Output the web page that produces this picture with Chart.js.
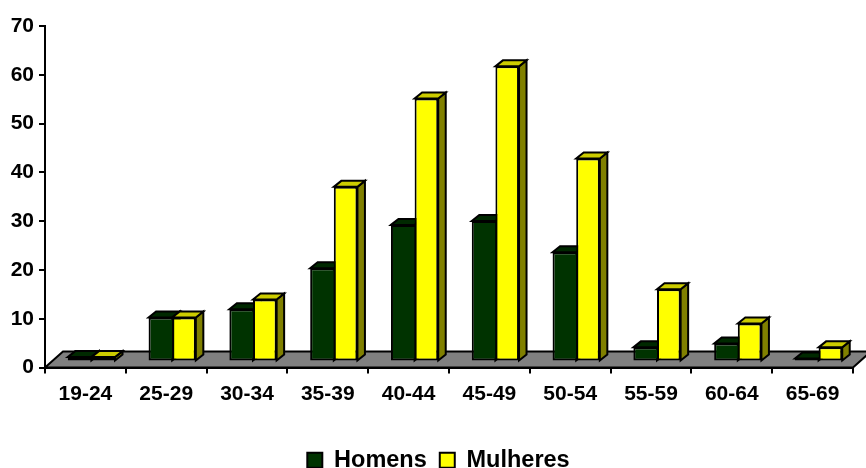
<!DOCTYPE html>
<html>
<head>
<meta charset="utf-8">
<title>Homens e Mulheres por faixa etaria</title>
<script src="https://cdn.jsdelivr.net/npm/chart.js@4"></script>
<style>
  html, body { margin: 0; padding: 0; background: #fff; }
  #wrap { width: 866px; height: 468px; }
</style>
</head>
<body>
<div id="wrap"><canvas id="grafico"></canvas></div>
<script>
const faixas = ['19-24', '25-29', '30-34', '35-39', '40-44', '45-49', '50-54', '55-59', '60-64', '65-69'];
const homens = [0.9, 9, 10.7, 19.1, 28, 28.8, 22.4, 2.9, 3.7, 0.6];
const mulheres = [0.9, 9, 12.7, 35.8, 53.9, 60.5, 41.6, 14.8, 7.8, 2.9];

const fonte = 'Liberation Sans, Arial, sans-serif';

// offsets of the fake 3D: floor depth, bar front shift, bar depth
const piso = { dx: 18, dy: -16 };
const frente = { dx: 6, dy: -6 };
const fundo = { dx: 7.5, dy: -6 };

const cores = [
  { frente: '#003300', topo: '#002900', lado: '#002900' },
  { frente: '#ffff00', topo: '#cccc00', lado: '#808000' }
];

function poligono(ctx, pts, cor) {
  ctx.beginPath();
  ctx.moveTo(pts[0][0], pts[0][1]);
  for (let i = 1; i < pts.length; i++) {
    ctx.lineTo(pts[i][0], pts[i][1]);
  }
  ctx.closePath();
  ctx.fillStyle = cor;
  ctx.fill();
  ctx.stroke();
}

const barras3d = {
  id: 'barras3d',
  afterLayout(chart) {
    // legend sits a bit right of the canvas centre
    chart.legend.left += 12;
    chart.legend.right += 12;
  },
  beforeDatasetsDraw(chart) {
    const ctx = chart.ctx;
    const a = chart.chartArea;
    ctx.save();
    ctx.strokeStyle = '#000';
    ctx.lineWidth = 2;
    ctx.lineJoin = 'miter';

    // floor
    poligono(ctx, [
      [a.left, a.bottom],
      [a.right, a.bottom],
      [a.right + piso.dx, a.bottom + piso.dy],
      [a.left + piso.dx, a.bottom + piso.dy]
    ], '#808080');

    // top and side of each bar, the front comes from the library
    chart.data.labels.forEach((_, j) => {
      for (let d = 0; d < chart.data.datasets.length; d++) {
        const b = chart.getDatasetMeta(d).data[j];
        const e = b.x - b.width / 2 + frente.dx;
        const r = b.x + b.width / 2 + frente.dx;
        const t = b.y + frente.dy;
        const f = b.base + frente.dy;
        poligono(ctx, [[r, t], [r + fundo.dx, t + fundo.dy], [r + fundo.dx, f + fundo.dy], [r, f]], cores[d].lado);
        poligono(ctx, [[e, t], [e + fundo.dx, t + fundo.dy], [r + fundo.dx, t + fundo.dy], [r, t]], cores[d].topo);
      }
    });
    ctx.restore();
  },
  beforeDatasetDraw(chart) {
    chart.ctx.save();
    chart.ctx.translate(frente.dx, frente.dy);
  },
  afterDatasetDraw(chart) {
    chart.ctx.restore();
  }
};

new Chart(document.getElementById('grafico'), {
  type: 'bar',
  data: {
    labels: faixas,
    datasets: [
      {
        label: 'Homens',
        data: homens,
        backgroundColor: cores[0].frente,
        borderColor: '#000',
        borderWidth: { top: 2, left: 2, bottom: 2, right: 0 },
        borderSkipped: false
      },
      {
        label: 'Mulheres',
        data: mulheres,
        backgroundColor: cores[1].frente,
        borderColor: '#000',
        borderWidth: 2,
        borderSkipped: false
      }
    ]
  },
  plugins: [barras3d],
  options: {
    responsive: true,
    maintainAspectRatio: false,
    animation: false,
    categoryPercentage: 0.585,
    barPercentage: 1,
    layout: { padding: { left: 0, right: 13, top: 26, bottom: -14 } },
    plugins: {
      tooltip: { enabled: false },
      legend: {
        position: 'bottom',
        labels: {
          boxWidth: 15,
          boxHeight: 15,
          padding: 13,
          color: '#000',
          font: { family: fonte, size: 23.5, weight: 'bold' },
          generateLabels(chart) {
            return Chart.defaults.plugins.legend.labels.generateLabels(chart).map(l => ({ ...l, lineWidth: 2 }));
          }
        }
      }
    },
    scales: {
      x: {
        afterFit(s) { s.height = 68; },
        border: { color: '#000', width: 2 },
        grid: { display: true, drawOnChartArea: false, color: '#000', lineWidth: 2, tickLength: 6 },
        ticks: { color: '#000', padding: 8, maxRotation: 0, font: { family: fonte, size: 21, weight: 'bold' } }
      },
      y: {
        min: 0,
        max: 70,
        afterFit(s) { s.width = 45; },
        border: { color: '#000', width: 2 },
        grid: { display: true, drawOnChartArea: false, color: '#000', lineWidth: 2, tickLength: 6 },
        ticks: { stepSize: 10, color: '#000', padding: 5, font: { family: fonte, size: 21, weight: 'bold' } }
      }
    }
  }
});
</script>
</body>
</html>
